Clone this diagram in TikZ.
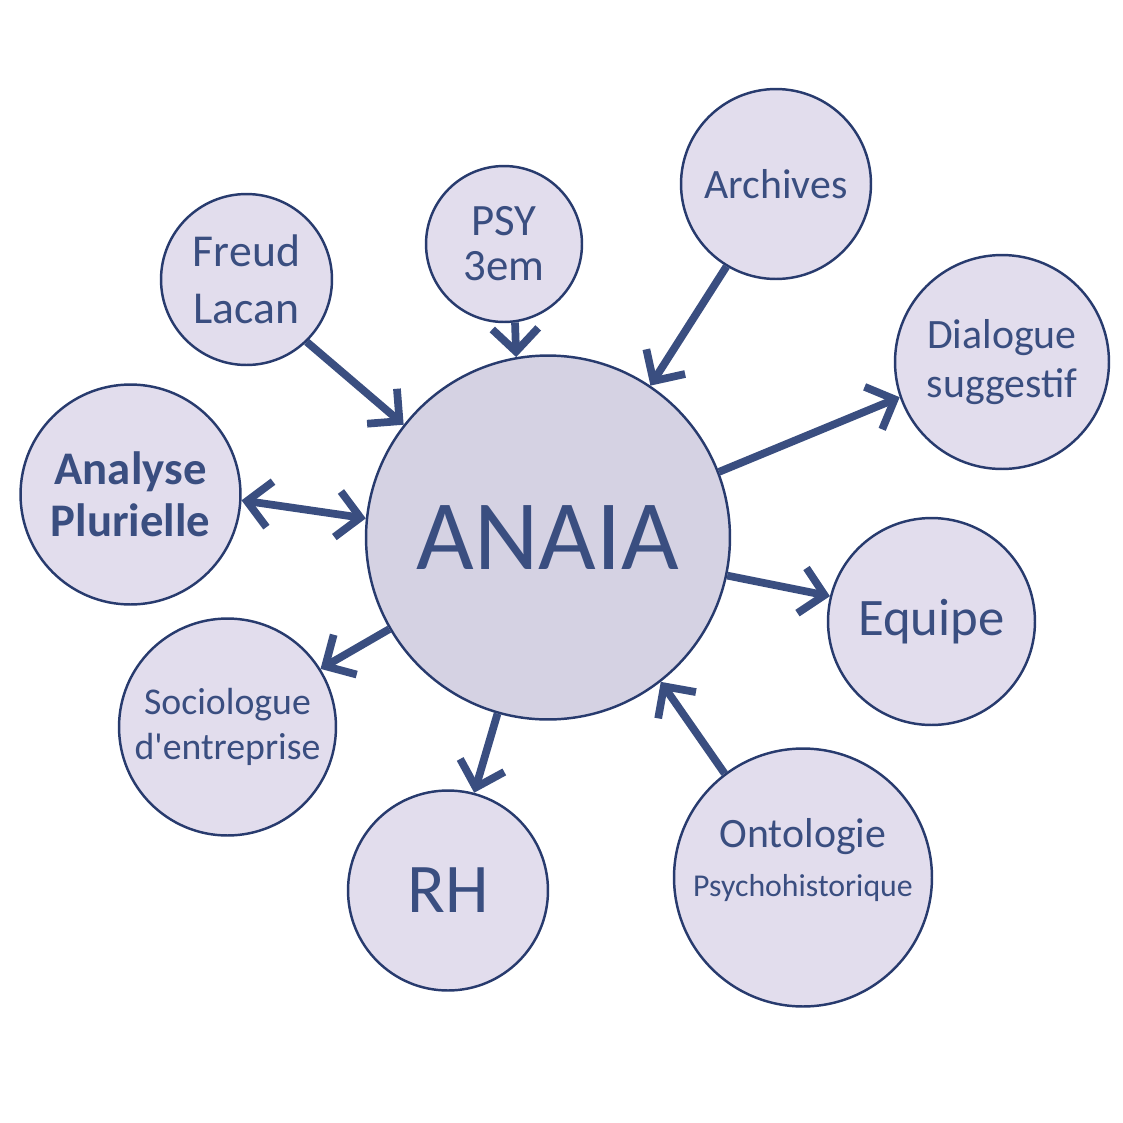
\documentclass[tikz,border=0pt]{standalone}
\usepackage{fontspec}
\setmainfont{Carlito}
\usepackage{tikz}
\usetikzlibrary{shapes}
\usetikzlibrary{arrows.meta}

\definecolor{inkblue}{HTML}{3A4E80}
\definecolor{rimblue}{HTML}{283B6E}
\definecolor{lilac}{HTML}{E2DDED}
\definecolor{hublilac}{HTML}{D5D2E3}

\begin{document}
\begin{tikzpicture}[x=0.02cm,y=-0.02cm,
    >={Straight Barb[length=0.46cm,width=0.92cm]},
    bubble/.style={circle,draw=rimblue,line width=1.4pt,fill=lilac,text=inkblue,inner sep=0pt,align=center},
    link/.style={draw=inkblue,line width=4.4pt,->}]
    \useasboundingbox (0,0) rectangle (1123,1123);

    \node[bubble,fill=hublilac,minimum size=7.28cm,font=\fontsize{56.7}{60}\selectfont] (anaia) at (548,537.5) {ANAIA};

    \node[bubble,minimum size=3.42cm,font=\fontsize{26}{32.3}\selectfont] (freud) at (246.5,279.5) {Freud\\Lacan};
    \node[bubble,minimum size=3.12cm,font=\fontsize{25.5}{25.5}\selectfont] (psy) at (504,244) {PSY\\3em};
    \node[bubble,minimum size=3.8cm,font=\fontsize{23.8}{28}\selectfont] (archives) at (776,184) {Archives};
    \node[bubble,minimum size=4.28cm,font=\fontsize{23.8}{28.3}\selectfont] (dialogue) at (1002,362) {Dialogue\\suggestif};
    \node[bubble,minimum size=4.4cm,font=\bfseries\fontsize{26.6}{29.5}\selectfont] (analyse) at (130.5,494.5) {Analyse\\Plurielle};
    \node[bubble,minimum size=4.14cm,font=\fontsize{30}{36}\selectfont] (equipe) at (931.5,621.5) {Equipe};
    \node[bubble,minimum size=4.34cm,font=\fontsize{21.5}{25.5}\selectfont] (socio) at (227.5,727) {Sociologue\\d\textquotesingle entreprise};
    \node[bubble,minimum size=4cm,font=\fontsize{39.7}{48}\selectfont] (rh) at (448,890.5) {RH};
    \node[bubble,minimum size=5.16cm] (onto) at (803,877.5) {};
    \node[text=inkblue,align=center,inner sep=0pt,font=\fontsize{23.8}{28.3}\selectfont] (onto-text) at (803,860) {Ontologie\\{\fontsize{18.1}{28.3}\selectfont Psychohistorique}};

    \draw[link] (freud.-46) -- (anaia.142);
    \draw[link] (psy.-82) -- (anaia.100);
    \draw[link] (archives.-121) -- (anaia.56);
    \draw[link] (anaia.21) -- (dialogue.199);
    \draw[link,<->] (analyse.-3) -- (anaia.174);
    \draw[link] (anaia.-12) -- (equipe.166);
    \draw[link] (anaia.210) -- (socio.32);
    \draw[link] (anaia.-106) -- (rh.75);
    \draw[link] (onto.127) -- (anaia.-52); % up into the hub
\end{tikzpicture}
\end{document}
